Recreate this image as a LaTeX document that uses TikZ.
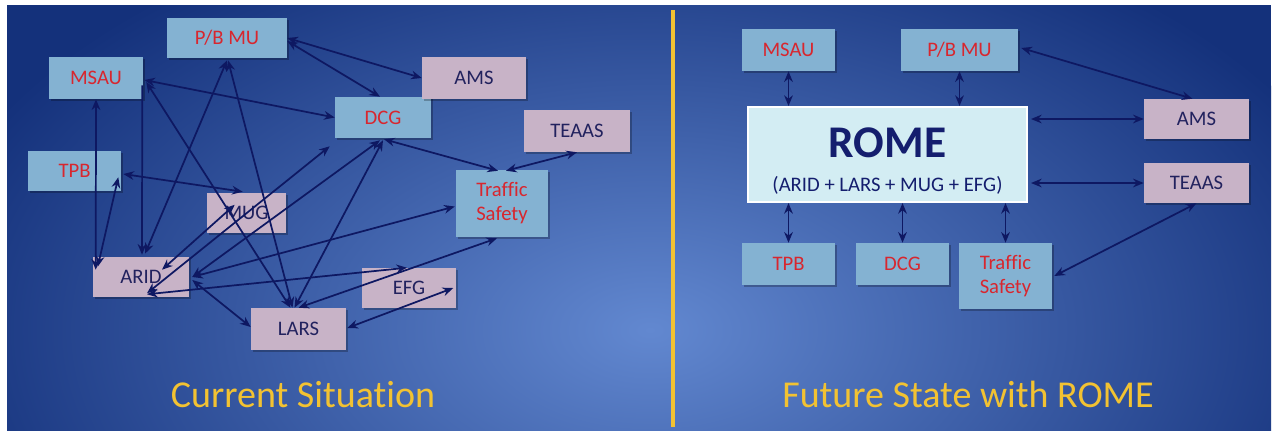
\documentclass[tikz,border=0pt]{standalone}
\usepackage{fontspec}
\setmainfont{Carlito}[Ligatures={NoCommon}]
\usetikzlibrary{arrows.meta,calc,shadows}
\definecolor{bgD}{HTML}{14317B}
\definecolor{bgL}{HTML}{6288D0}
\definecolor{boxB}{HTML}{84B2D2}
\definecolor{boxP}{HTML}{C8B3C7}
\definecolor{redT}{HTML}{D8262E}
\definecolor{navyT}{HTML}{22225E}
\definecolor{romeF}{HTML}{D3EDF3}
\definecolor{romeT}{HTML}{141E6E}
\definecolor{lineC}{HTML}{0E1862}
\definecolor{goldT}{HTML}{F2C232}
\begin{document}
\begin{tikzpicture}[x=0.75pt,y=-0.75pt,
  >={Stealth[length=8pt,width=6.5pt]},
  sz/.style 2 args={minimum width=#1*0.75pt,minimum height=#2*0.75pt},
  basebox/.style={rectangle,inner sep=0pt,font=\fontsize{15.5}{18}\selectfont,
     drop shadow={shadow xshift=1.5pt,shadow yshift=-1.5pt,opacity=0.25,fill=black}},
  lb/.style={basebox,fill=boxB,text=redT},
  pk/.style={basebox,fill=boxP,text=navyT},
  con/.style={draw=lineC,line width=1.3pt,<->},
  con1/.style={draw=lineC,line width=1.3pt,->},
  ttl/.style={anchor=base,text=goldT,font=\fontsize{28.5}{32}\selectfont}]
\useasboundingbox (0,0) rectangle (1276,436);
\fill[white] (0,0) rectangle (1276,436);
\fill[bgD] (7,5) rectangle (1271,430);
\begin{scope}
  \clip (7,5) rectangle (1271,430);
  \shade[inner color=bgL,outer color=bgD] (650,330) ellipse [x radius=560pt,y radius=330pt];
\end{scope}
\draw[goldT,line width=3pt] (673,10) -- (673,427);

% ---------- left: current situation ----------
\node[lb,sz={120}{40}] (lPB) at (227,38) {P/B MU};
\node[lb,sz={94}{42}] (lMSAU) at (96,78) {MSAU};
\node[lb,sz={93}{40}] (lTPB) at (74.5,171) {TPB};
\node[pk,sz={79}{40}] (lMUG) at (246.5,213) {MUG};
\node[pk,sz={96}{40}] (lARID) at (141,277) {ARID};
\node[pk,sz={95}{42}] (lLARS) at (298.5,329) {LARS};
\node[pk,sz={94}{40}] (lEFG) at (409,288) {EFG};
\node[lb,sz={96}{41}] (lDCG) at (383,117.5) {DCG};
\node[pk,sz={104}{42}] (lAMS) at (474,78) {AMS};
\node[pk,sz={106}{42}] (lTEAAS) at (577,131) {TEAAS};
\node[lb,sz={92}{67},align=center] (lTS) at (502,203.5) {Traffic\\Safety};

\draw[con] (lPB.east) -- (lAMS.west);
\draw[con] ($(lPB.east)+(0,3)$) -- ($(lDCG.north)+(-3,0)$);
\draw[con] ($(lMSAU.east)+(1,2)$) -- (lDCG.west);
\draw[con] (lMSAU.south) -- ($(lARID.north west)+(3,13)$);
\draw[con1] ($(lMSAU.south east)+(-1,-14)$) -- ($(lARID.north)+(1,-2)$);
\draw[con] ($(lMSAU.east)+(3,4)$) -- ($(lLARS.north)+(-8,0)$);
\draw[con] ($(lPB.south)+(0,2)$) -- ($(lARID.north)+(4,-3)$);
\draw[con] ($(lPB.south)+(1,2)$) -- ($(lLARS.north)+(-6,0)$);
\draw[con] ($(lTPB.east)+(2,3)$) -- ($(lMUG.north west)+(36,-1)$);
\draw[con] ($(lTPB.south east)+(-3,-14)$) -- ($(lARID.north west)+(5,10)$);
\draw[con] ($(lARID.north)+(21,13)$) -- ($(lMUG.north west)+(28,12)$);
\draw[con] ($(lARID.south)+(6,-4)$) -- ($(lDCG.south west)+(-5,8)$);
\draw[con] ($(lARID.east)+(3,0)$) -- ($(lDCG.south)+(-3,2)$);
\draw[con] ($(lARID.east)+(3,0)$) -- ($(lTS.west)+(-1,3)$);
\draw[con] ($(lARID.east)+(3,3)$) -- ($(lLARS.west)+(0,-2)$);
\draw[con] ($(lARID.south)+(6,-3)$) -- ($(lEFG.north)+(-2,0)$);
\draw[con] ($(lLARS.north)+(-4,0)$) -- ($(lDCG.south)+(0,2)$);
\draw[con] (lLARS.north) -- ($(lTS.south)+(-5,1)$);
\draw[con] ($(lLARS.east)+(1,-1)$) -- ($(lEFG.east)+(-3,0)$);
\draw[con] ($(lDCG.south)+(1,1)$) -- ($(lTS.north)+(-4,1)$);
\draw[con] ($(lTS.north)+(4,1)$) -- (lTEAAS.south);

\node[ttl] (tCur) at (303,407) {Current Situation};

% ---------- right: future state ----------
\node[lb,sz={93}{42}] (rMSAU) at (788.5,50) {MSAU};
\node[lb,sz={117}{42}] (rPB) at (959.5,50) {P/B MU};
\node[rectangle,draw=white,line width=1.5pt,fill=romeF,sz={279}{95}] (ROME) at (887.5,154.5) {};
\node[anchor=base,text=romeT,font=\fontsize{34}{40}\selectfont\bfseries] (romeTitle) at (887.5,157.5) {ROME};
\node[anchor=base,text=romeT,font=\fontsize{15.5}{18}\selectfont] (romeSub) at (887.5,191) {(ARID + LARS + MUG + EFG)};
\node[pk,sz={105}{40}] (rAMS) at (1196.5,119) {AMS};
\node[pk,sz={105}{40}] (rTEAAS) at (1196.5,183) {TEAAS};
\node[lb,sz={93}{42}] (rTPB) at (788.5,264) {TPB};
\node[lb,sz={93}{42}] (rDCG) at (902.5,264) {DCG};
\node[lb,sz={93}{66},align=center] (rTS) at (1005.5,276) {Traffic\\Safety};

\draw[con] (rMSAU.south) -- (rMSAU.south |- ROME.north);
\draw[con] (rPB.south) -- (rPB.south |- ROME.north);
\draw[con] ($(rPB.east)+(3,-2)$) -- ($(rAMS.north)+(-4,0)$);
\draw[con] ($(ROME.east |- rAMS.west)+(3,0)$) -- (rAMS.west);
\draw[con] ($(ROME.east |- rTEAAS.west)+(3,0)$) -- (rTEAAS.west);
\draw[con] (rTPB.north) -- (rTPB.north |- ROME.south);
\draw[con] (rDCG.north) -- (rDCG.north |- ROME.south);
\draw[con] (rTS.north) -- (rTS.north |- ROME.south);
\draw[con] ($(rTS.east)+(2,0)$) -- (rTEAAS.south);

\node[ttl] (tFut) at (968,407) {Future State with ROME};
\end{tikzpicture}
\end{document}
